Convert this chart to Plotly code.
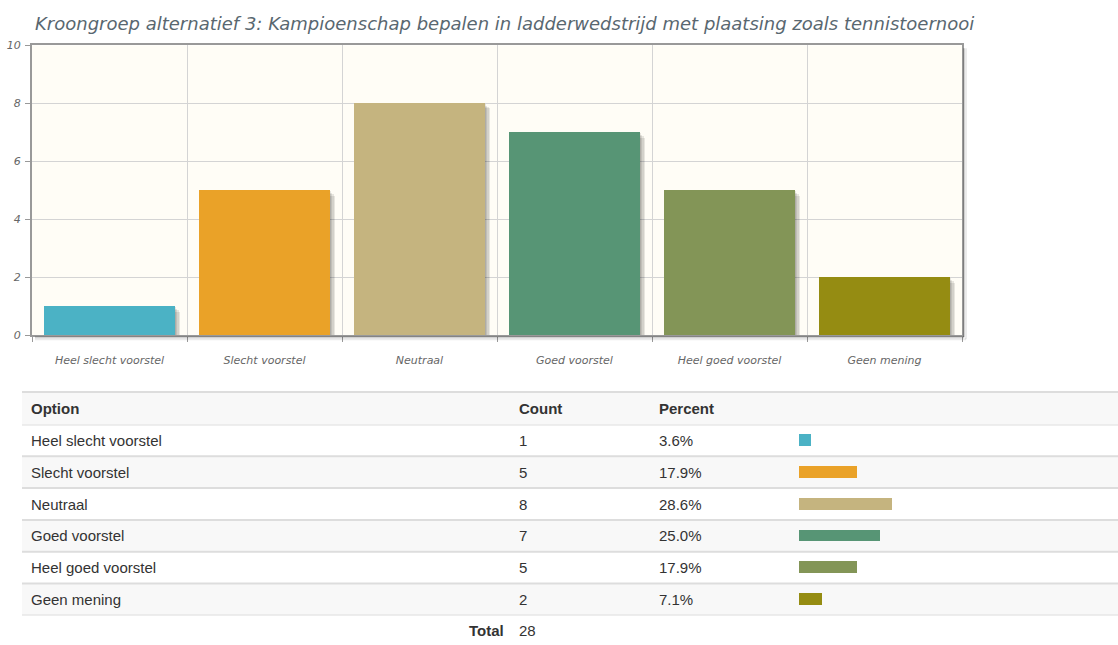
import plotly.graph_objects as go

# ---------------- data ----------------
title_text = "Kroongroep alternatief 3: Kampioenschap bepalen in ladderwedstrijd met plaatsing zoals tennistoernooi"
categories = ["Heel slecht voorstel", "Slecht voorstel", "Neutraal",
              "Goed voorstel", "Heel goed voorstel", "Geen mening"]
counts = [1, 5, 8, 7, 5, 2]
percents = [3.6, 17.9, 28.6, 25.0, 17.9, 7.1]
percent_labels = ["3.6%", "17.9%", "28.6%", "25.0%", "17.9%", "7.1%"]
total_count = 28
y_tick_values = [0, 2, 4, 6, 8, 10]
header_labels = ["Option", "Count", "Percent"]
colors = ["#4bb2c5", "#eaa228", "#c5b47f", "#579575", "#839557", "#958c12"]

# ---------------- geometry helpers ----------------
W, H = 1118, 645
def px(x):
    return x / W
def py(y):
    return 1 - y / H

plot_l, plot_r, plot_t, plot_b = 32, 962, 40, 336
n = len(categories)
xs = list(range(n))
unit_x = (plot_r - plot_l) / n          # pixels per category
unit_y = (plot_b - plot_t) / 10         # pixels per count
bar_w = 0.84

fig = go.Figure()

# bar shadows (stacked translucent layers offset down/right)
for k in range(1, 5):
    dx = k * 1.4 / unit_x
    dy = k * 1.4 / unit_y
    fig.add_trace(go.Bar(
        x=[x + dx for x in xs], y=counts, base=[-dy] * n, width=bar_w,
        marker=dict(color="rgba(0,0,0,0.09)", line=dict(width=0)),
        hoverinfo="skip", showlegend=False, xaxis="x", yaxis="y"))

# main bars
fig.add_trace(go.Bar(
    x=xs, y=counts, width=bar_w,
    marker=dict(color=colors, line=dict(width=0)),
    showlegend=False, xaxis="x", yaxis="y",
    hovertext=categories, hoverinfo="text+y"))

# mini bars in the table
fig.add_trace(go.Bar(
    x=percents, y=xs, orientation="h", width=0.37,
    marker=dict(color=colors, line=dict(width=0)),
    showlegend=False, xaxis="x2", yaxis="y2",
    hovertext=categories, hoverinfo="text+x"))

tick_font = dict(family="DejaVu Sans", size=11, color="#666666", style="italic")

fig.update_layout(
    width=W, height=H,
    margin=dict(l=0, r=0, t=0, b=0),
    paper_bgcolor="white",
    plot_bgcolor="rgba(0,0,0,0)",
    barmode="overlay",
    bargap=0,
    hovermode=False,
    title=dict(text=title_text, x=px(35), xanchor="left", y=py(18), yanchor="middle",
               xref="paper", yref="paper",
               font=dict(family="DejaVu Sans", size=18, color="#596770", style="italic")),
    xaxis=dict(domain=[px(plot_l), px(plot_r)], range=[-0.5, n - 0.5],
               tickmode="array", tickvals=xs, ticktext=categories,
               ticks="", showgrid=False, zeroline=False,
               showline=True, mirror=True, linecolor="#999999", linewidth=2,
               tickfont=tick_font, ticklabelstandoff=14,
               minor=dict(tickmode="array", tickvals=[x - 0.5 for x in xs] + [n - 0.5],
                          showgrid=True, gridcolor="#d4d4d4", gridwidth=1,
                          ticks="outside", ticklen=5, tickcolor="#999999", tickwidth=1),
               fixedrange=True),
    yaxis=dict(domain=[py(plot_b), py(plot_t)], range=[0, 10],
               tickmode="array", tickvals=y_tick_values,
               showgrid=True, gridcolor="#d4d4d4", gridwidth=1, zeroline=False,
               showline=True, mirror=True, linecolor="#999999", linewidth=2,
               ticks="outside", ticklen=5, tickcolor="#999999",
               tickfont=tick_font, ticklabelstandoff=2, fixedrange=True),
    xaxis2=dict(domain=[px(799), 1.0], range=[0, (W - 799) / 3.24],
                visible=False, fixedrange=True, anchor="y2"),
    yaxis2=dict(domain=[py(622), py(427)], range=[n - 0.5, -0.5],
                visible=False, fixedrange=True, anchor="x2"),
)

shapes = []
# cream plot background
shapes.append(dict(type="rect", xref="x", yref="y", x0=-0.5, x1=n - 0.5, y0=0, y1=10,
                   fillcolor="#fffdf6", line=dict(width=0), layer="below"))
# plot border shadow (right + bottom)
for k, a in [(2, 0.18), (4, 0.08)]:
    shapes.append(dict(type="line", xref="paper", yref="paper",
                       x0=px(plot_r + k), x1=px(plot_r + k), y0=py(plot_t + 3), y1=py(plot_b + k),
                       line=dict(color="rgba(0,0,0,%s)" % a, width=2)))
    shapes.append(dict(type="line", xref="paper", yref="paper",
                       x0=px(plot_l + 3), x1=px(plot_r + k), y0=py(plot_b + k), y1=py(plot_b + k),
                       line=dict(color="rgba(0,0,0,%s)" % a, width=2)))

# table header background
shapes.append(dict(type="rect", xref="paper", yref="paper", x0=px(22), x1=1,
                   y0=py(427), y1=py(394), fillcolor="#f8f8f8", line=dict(width=0), layer="below"))
# striped rows
for i in xs:
    if i % 2 == 1:
        shapes.append(dict(type="rect", xref="paper", yref="y2", x0=px(22), x1=1,
                           y0=i - 0.5, y1=i + 0.5, fillcolor="#f8f8f8",
                           line=dict(width=0), layer="below"))
# row border lines
shapes.append(dict(type="line", xref="paper", yref="paper", x0=px(22), x1=1,
                   y0=py(394), y1=py(394), line=dict(color="#dddddd", width=2)))
for i in xs + [n]:
    shapes.append(dict(type="line", xref="paper", yref="y2", x0=px(22), x1=1,
                       y0=i - 0.5, y1=i - 0.5, line=dict(color="#dddddd", width=2)))
fig.update_layout(shapes=shapes)

# table text
table_font = dict(family="Liberation Sans", size=15, color="#333333")
bold_font = dict(family="Liberation Sans", size=15, color="#333333", weight="bold")
ann = []
for label, xpos in zip(header_labels, [29, 517, 657]):
    ann.append(dict(text=label, xref="paper", yref="paper", x=px(xpos), y=py(411),
                    xanchor="left", yanchor="middle", showarrow=False, font=bold_font))
for i in xs:
    ann.append(dict(text=categories[i], xref="paper", yref="y2", x=px(29), y=i,
                    xanchor="left", yanchor="middle", showarrow=False, font=table_font))
    ann.append(dict(text=str(counts[i]), xref="paper", yref="y2", x=px(517), y=i,
                    xanchor="left", yanchor="middle", showarrow=False, font=table_font))
    ann.append(dict(text=percent_labels[i], xref="paper", yref="y2", x=px(657), y=i,
                    xanchor="left", yanchor="middle", showarrow=False, font=table_font))
ann.append(dict(text="Total", xref="paper", yref="paper", x=px(506), y=py(637),
                xanchor="right", yanchor="middle", showarrow=False, font=bold_font))
ann.append(dict(text=str(total_count), xref="paper", yref="paper", x=px(517), y=py(637),
                xanchor="left", yanchor="middle", showarrow=False, font=table_font))
fig.update_layout(annotations=ann)

fig.write_html("out.html",
               config={"displayModeBar": False},
               post_script="document.body.style.margin='0';document.body.style.overflow='hidden';")
